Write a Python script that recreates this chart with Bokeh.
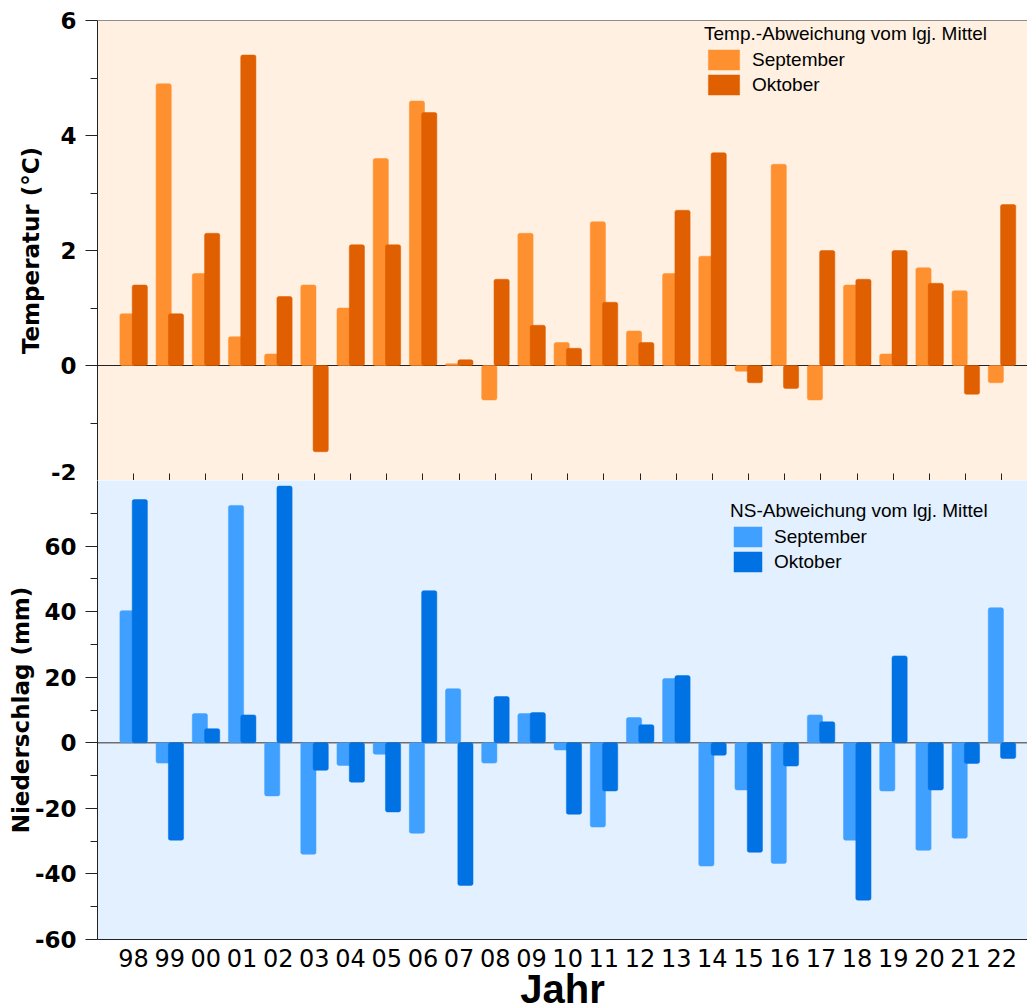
from bokeh.plotting import figure
from bokeh.layouts import column
from bokeh.models import Range1d, FixedTicker, Legend, LegendItem, Span, ColumnDataSource
from bokeh.transform import dodge
from bokeh.embed import file_html
from bokeh.resources import INLINE

years = ["98", "99", "00", "01", "02", "03", "04", "05", "06", "07", "08", "09", "10",
         "11", "12", "13", "14", "15", "16", "17", "18", "19", "20", "21", "22"]
temp_sep = [0.9, 4.9, 1.6, 0.5, 0.2, 1.4, 1.0, 3.6, 4.6, 0.03, -0.6, 2.3, 0.4,
            2.5, 0.6, 1.6, 1.9, -0.1, 3.5, -0.6, 1.4, 0.2, 1.7, 1.3, -0.3]
temp_oct = [1.4, 0.9, 2.3, 5.4, 1.2, -1.5, 2.1, 2.1, 4.4, 0.1, 1.5, 0.7, 0.3,
            1.1, 0.4, 2.7, 3.7, -0.3, -0.4, 2.0, 1.5, 2.0, 1.43, -0.5, 2.8]
ns_sep = [40.3, -6.2, 8.9, 72.4, -16.2, -34.0, -6.9, -3.5, -27.6, 16.5, -6.2, 8.9, -2.2,
          -25.7, 7.7, 19.6, -37.6, -14.4, -36.8, 8.5, -29.7, -14.7, -32.8, -29.1, 41.2]
ns_oct = [74.2, -29.7, 4.3, 8.5, 78.3, -8.4, -12.0, -21.1, 46.4, -43.5, 14.1, 9.2, -21.8,
          -14.7, 5.5, 20.5, -3.8, -33.4, -7.1, 6.4, -48.0, 26.5, -14.4, -6.3, -4.8]

temp_ticks = [-2, 0, 2, 4, 6]
temp_minor = [-1, 1, 3, 5]
ns_ticks = [-60, -40, -20, 0, 20, 40, 60]
ns_minor = [-50, -30, -10, 10, 30, 50, 70]

idx = list(range(len(years)))
src = ColumnDataSource(dict(x=idx, ts=temp_sep, to=temp_oct, ns=ns_sep, no=ns_oct))

FRAME_W = 930
BAR_W = 0.42
OFF_S = -0.165
OFF_O = 0.175
X_RANGE = (-0.994, 24.71)

TICK_FONT = "DejaVu Sans"
LEG_FONT = "Liberation Sans"


def style_common(p, ylabel, yticks, yminor, lab_standoff):
    p.xgrid.visible = False
    p.ygrid.visible = False
    p.outline_line_color = None
    ya = p.yaxis[0]
    ya.ticker = FixedTicker(ticks=yticks, minor_ticks=yminor)
    ya.major_label_overrides = {t: str(t) for t in yticks}
    ya.axis_label = ylabel
    ya.axis_label_text_font = TICK_FONT
    ya.axis_label_text_font_style = "bold"
    ya.axis_label_text_font_size = "23px"
    ya.axis_label_text_color = "black"
    ya.axis_label_standoff = lab_standoff
    ya.major_label_text_font = TICK_FONT
    ya.major_label_text_font_style = "bold"
    ya.major_label_text_font_size = "23px"
    ya.major_label_text_color = "black"
    ya.major_label_standoff = 9
    ya.major_tick_out = 12
    ya.major_tick_in = 0
    ya.minor_tick_out = 7
    ya.minor_tick_in = 0
    ya.axis_line_color = "#222222"
    ya.major_tick_line_color = "#222222"
    ya.minor_tick_line_color = "#222222"
    xa = p.xaxis[0]
    xa.ticker = FixedTicker(ticks=idx, minor_ticks=[])
    xa.axis_line_color = "#222222"
    xa.major_tick_line_color = "#222222"


def make_legend(title, items, loc, title_size, gw, gh):
    leg = Legend(items=items, title=title, location=loc)
    leg.title_text_font = LEG_FONT
    leg.title_text_font_size = title_size
    leg.title_text_font_style = "normal"
    leg.title_text_color = "black"
    leg.title_standoff = 2
    leg.label_text_font = LEG_FONT
    leg.label_text_font_size = "19px"
    leg.label_text_color = "black"
    leg.glyph_width = gw
    leg.glyph_height = gh
    leg.label_height = gh
    leg.label_standoff = 9
    leg.spacing = 0
    leg.padding = 0
    leg.margin = 0
    leg.background_fill_alpha = 0
    leg.border_line_alpha = 0
    return leg


# ---------------- top: temperature ----------------
p1 = figure(frame_width=FRAME_W, frame_height=460,
            x_range=Range1d(*X_RANGE), y_range=Range1d(-2, 6),
            output_backend="svg", toolbar_location=None,
            min_border_left=97, min_border_right=0, min_border_top=20, min_border_bottom=0,
            background_fill_color="#FFF0E1", border_fill_color="white")
style_common(p1, "Temperatur (°C)", temp_ticks, temp_minor, 4)
xa1 = p1.xaxis[0]
xa1.major_label_overrides = {i: "" for i in idx}
xa1.major_label_text_font_size = "1px"
xa1.major_label_standoff = 0
xa1.major_tick_in = 7
xa1.major_tick_out = 0

p1.add_layout(Span(location=0, dimension="width", line_color="#222222", line_width=1, level="underlay"))
p1.add_layout(Span(location=6, dimension="width", line_color="#222222", line_width=1))

r1 = p1.vbar(x=dodge("x", OFF_S), top="ts", bottom=0, width=BAR_W, source=src,
             fill_color="#FF9030", line_color="#FF9030", line_width=0.5, border_radius=2)
r2 = p1.vbar(x=dodge("x", OFF_O), top="to", bottom=0, width=BAR_W, source=src,
             fill_color="#E05F00", line_color="#E05F00", line_width=0.5, border_radius=2)

leg1 = make_legend("Temp.-Abweichung vom lgj. Mittel",
                   [LegendItem(label="September", renderers=[r1]),
                    LegendItem(label="Oktober", renderers=[r2])],
                   (607, 383), "19px", 39, 25)
p1.add_layout(leg1)

# ---------------- bottom: precipitation ----------------
p2 = figure(frame_width=FRAME_W, frame_height=459,
            x_range=Range1d(*X_RANGE), y_range=Range1d(-60, 80),
            output_backend="svg", toolbar_location=None,
            min_border_left=97, min_border_right=0, min_border_top=0, min_border_bottom=0,
            background_fill_color="#E2F0FF", border_fill_color="white")
style_common(p2, "Niederschlag (mm)", ns_ticks, ns_minor, -2)
xa = p2.xaxis[0]
xa.major_label_overrides = {i: y for i, y in enumerate(years)}
xa.major_tick_in = 0
xa.major_tick_out = 0
xa.major_label_text_font = TICK_FONT
xa.major_label_text_font_size = "24px"
xa.major_label_text_color = "black"
xa.major_label_standoff = 9
xa.axis_label = "Jahr"
xa.axis_label_text_font = "Liberation Sans"
xa.axis_label_text_font_style = "bold"
xa.axis_label_text_font_size = "40px"
xa.axis_label_text_color = "black"
xa.axis_label_standoff = -3

p2.add_layout(Span(location=0, dimension="width", line_color="#6E6E6E", line_width=1.5, level="underlay"))

r3 = p2.vbar(x=dodge("x", OFF_S), top="ns", bottom=0, width=BAR_W, source=src,
             fill_color="#40A0FF", line_color="#40A0FF", line_width=0.5, border_radius=2)
r4 = p2.vbar(x=dodge("x", OFF_O), top="no", bottom=0, width=BAR_W, source=src,
             fill_color="#0072E4", line_color="#0072E4", line_width=0.5, border_radius=2)

leg2 = make_legend("NS-Abweichung vom lgj. Mittel",
                   [LegendItem(label="September", renderers=[r3]),
                    LegendItem(label="Oktober", renderers=[r4])],
                   (633, 365), "19px", 35, 25)
p2.add_layout(leg2)

layout = column(p1, p2, spacing=0)
open("out.html", "w").write(file_html(layout, INLINE))
